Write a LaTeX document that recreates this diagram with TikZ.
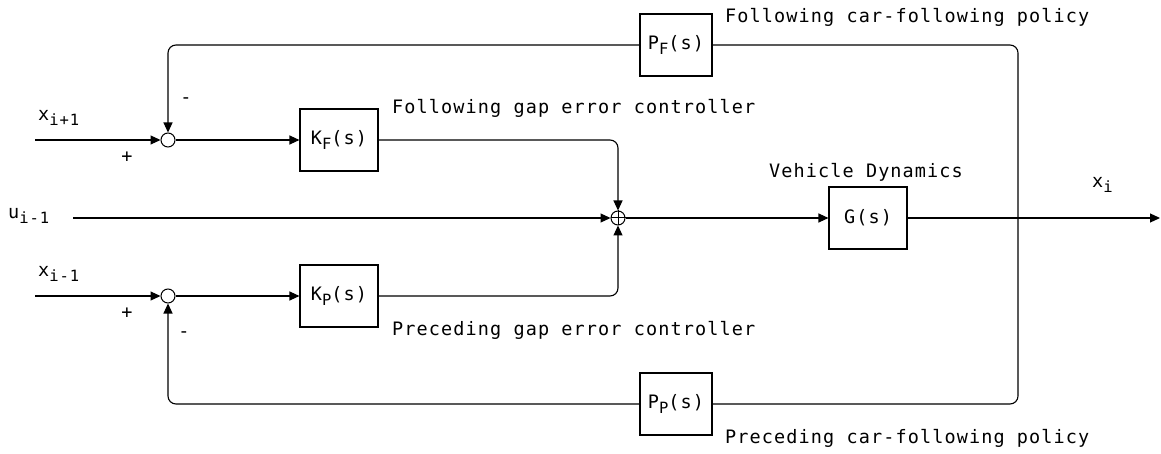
\documentclass[tikz,border=0pt]{standalone}
\usepackage{fontspec}
\usetikzlibrary{arrows.meta}
\newfontfamily\diagfont[LetterSpace=6]{DejaVu Sans Mono}
% lowered index in the same typeface
\newcommand{\lo}[1]{\raisebox{-0.5ex}{\fontsize{15.5}{15.5}\selectfont #1}}
\begin{document}
\begin{tikzpicture}[x=1pt,y=-1pt,
  every node/.style={font=\diagfont\fontsize{18.5}{20}\selectfont},
  blk/.style={draw,line width=1.1pt,minimum width=78pt,minimum height=62pt,inner sep=0},
  sumc/.style={draw,circle,minimum size=14pt,inner sep=0,line width=1pt},
  lbl/.style={inner sep=0},
  wire/.style={line width=1.1pt,rounded corners=8pt},
  sig/.style={wire,-{Triangle[length=10pt,width=9pt]}}]
\useasboundingbox (0,0) rectangle (1161,454);

% summing junctions
\node[sumc] (s1) at (168,140) {};
\node[sumc] (s2) at (168,296) {};
\node[sumc] (s3) at (618,218) {};
\draw[line width=1pt] (s3.north) -- (s3.south) (s3.west) -- (s3.east);

% blocks
\node[blk] (kf) at (339,140) {K\lo{F}(s)};
\node[blk] (kp) at (339,296) {K\lo{P}(s)};
\node[blk,minimum width=72pt] (pf) at (676,45) {P\lo{F}(s)};
\node[blk,minimum width=72pt] (pp) at (676,404) {P\lo{P}(s)};
\node[blk] (g) at (868,218) {G(s)};

% free ends and branch point
\coordinate (inF) at (35,140);
\coordinate (inP) at (35,296);
\coordinate (inU) at (73,218);
\coordinate (br) at (1018,218);
\coordinate (out) at (1160,218);

% signal labels
\node[lbl,anchor=west] (lxf) at (38,118) {x\lo{i+1}};
\node[lbl,anchor=west] (lu) at (8,216) {u\lo{i-1}};
\node[lbl,anchor=west] (lxp) at (38,274) {x\lo{i-1}};
\node[lbl,anchor=west] (lx) at (1092,185) {x\lo{i}};
\node[lbl] (pl1) at (127,157) {+};
\node[lbl] (pl2) at (127,313) {+};
\node[lbl] (mi1) at (186,101) {-};
\node[lbl] (mi2) at (184,335) {-};

% block titles
\node[lbl,anchor=west] (tpf) at (725,17) {Following car-following policy};
\node[lbl,anchor=west] (tkf) at (392,108) {Following gap error controller};
\node[lbl] (tg) at (866,172) {Vehicle Dynamics};
\node[lbl,anchor=west] (tkp) at (392,330) {Preceding gap error controller};
\node[lbl,anchor=west] (tpp) at (725,438) {Preceding car-following policy};

% forward paths
\draw[sig] (inF) -- (s1);
\draw[sig] (s1) -- (kf);
\draw[sig] (inP) -- (s2);
\draw[sig] (s2) -- (kp);
\draw[sig] (kf.east) -| (s3.north);
\draw[sig] (kp.east) -| (s3.south);
\draw[sig] (inU) -- (s3);
\draw[sig] (s3) -- (g);
\draw[sig] (g) -- (out);

% car-following feedback loops
\draw[wire] (br) |- (pf.east);
\draw[sig] (pf.west) -| (s1.north);
\draw[wire] (br) |- (pp.east);
\draw[sig] (pp.west) -| (s2.south);
\end{tikzpicture}
\end{document}
